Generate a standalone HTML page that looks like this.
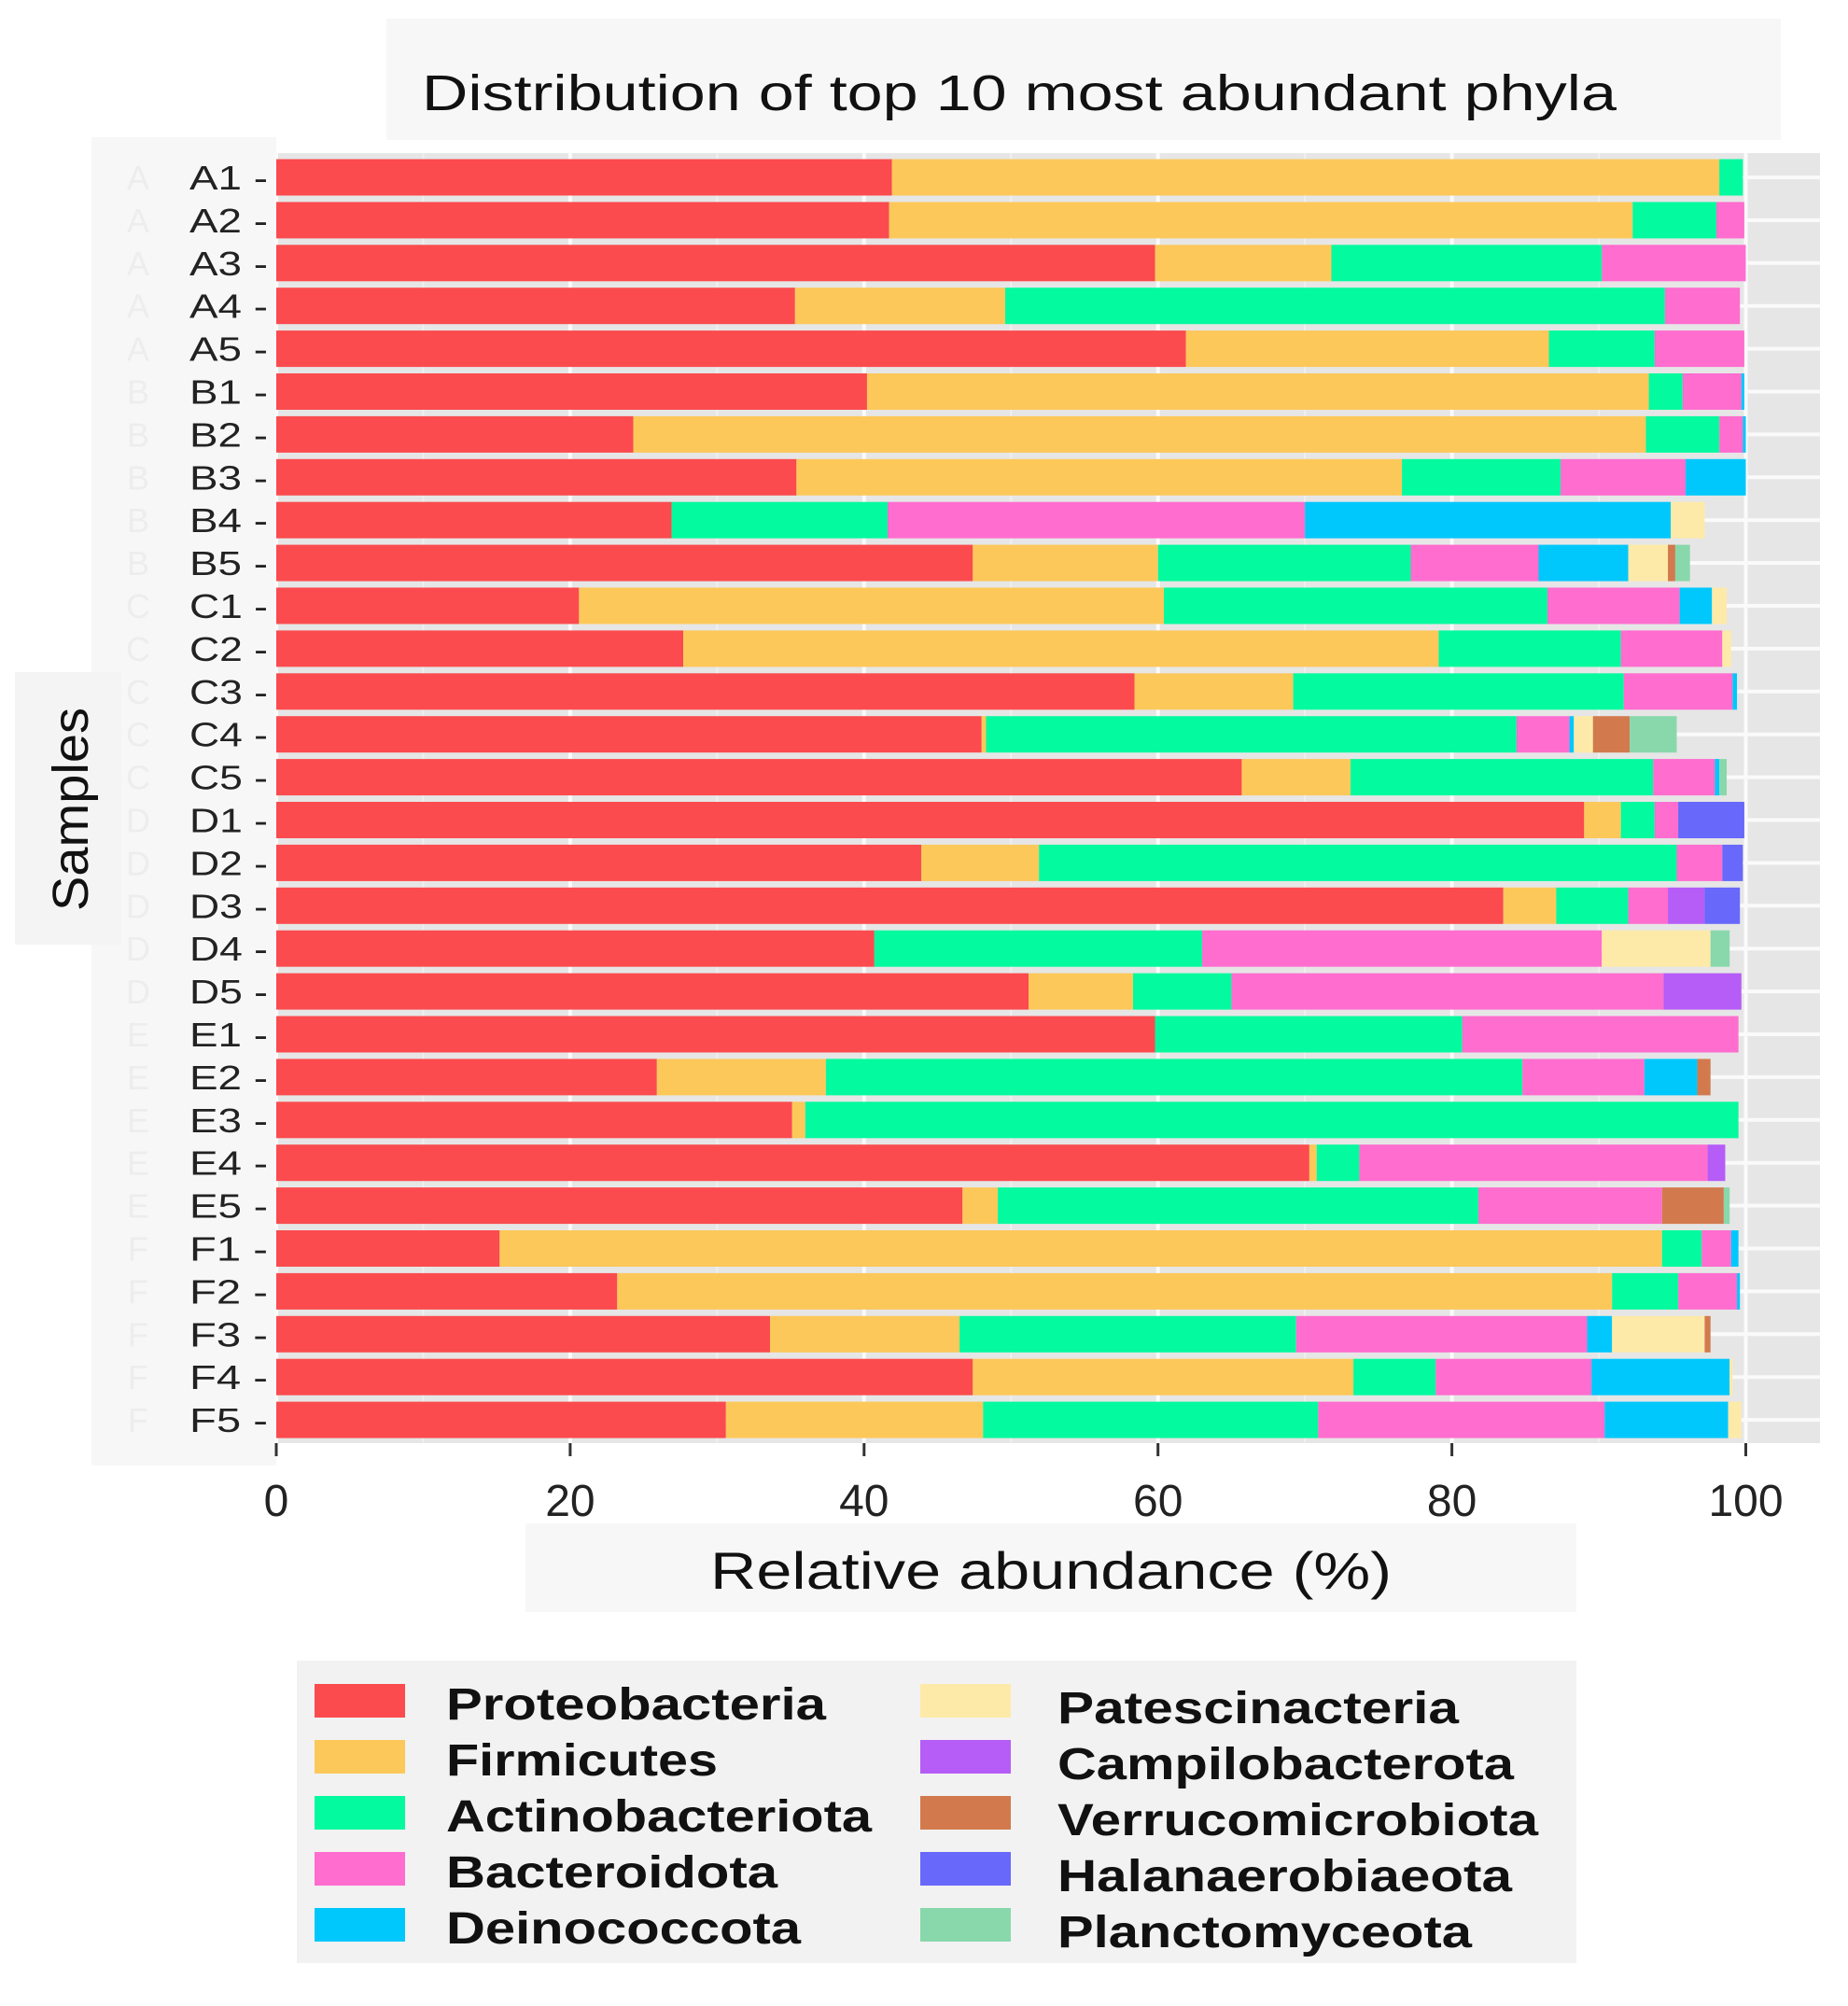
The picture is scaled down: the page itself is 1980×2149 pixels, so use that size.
<!DOCTYPE html>
<html><head><meta charset="utf-8"><style>
html,body{margin:0;padding:0;background:#fff;}
svg text{font-family:"Liberation Sans",Arial,sans-serif;}
</style></head><body>
<svg id="chart" width="1980" height="2144" viewBox="0 0 1980 2144" xmlns="http://www.w3.org/2000/svg">
<rect x="414" y="20" width="1494" height="130" fill="#f7f7f7"/>
<text x="452" y="118" font-size="54" textLength="1280" lengthAdjust="spacingAndGlyphs" fill="#111">Distribution of top 10 most abundant phyla</text>
<rect x="98" y="147" width="198" height="1423" fill="#f7f7f7"/>
<rect x="16" y="720" width="114" height="292" fill="#f4f4f4"/>
<rect x="296" y="164" width="1654" height="1382" fill="#e6e6e6"/>
<g id="grid"></g>
<g id="bars"></g>
<g id="ylabels"></g>
<g id="xaxis"></g>
<rect x="563" y="1632" width="1126" height="95" fill="#f7f7f7"/>
<text x="761" y="1702" font-size="56" textLength="730" lengthAdjust="spacingAndGlyphs" fill="#111">Relative abundance (%)</text>
<text transform="translate(94,867) rotate(-90)" font-size="54" text-anchor="middle" textLength="218" lengthAdjust="spacingAndGlyphs" fill="#111">Samples</text>
<rect x="318" y="1779" width="1371" height="324" fill="#f2f2f2"/>
<g id="legend"></g>
</svg>
<script>
const samples = ["A1","A2","A3","A4","A5","B1","B2","B3","B4","B5","C1","C2","C3","C4","C5","D1","D2","D3","D4","D5","E1","E2","E3","E4","E5","F1","F2","F3","F4","F5"];
const phyla = ["Proteobacteria","Firmicutes","Actinobacteriota","Bacteroidota","Deinococcota","Patescinacteria","Campilobacterota","Verrucomicrobiota","Halanaerobiaeota","Planctomyceota"];
const colors = ["#fb4b4e","#fdc85a","#04fa9e","#ff6dcf","#00c8fc","#feeaa8","#b65cf7","#d27a4d","#6868fb","#88d8ab"];
const legendWidths = [407,291,456,355,380,430,489,515,487,444];
const proteobacteria = [41.9,41.7,59.8,35.3,61.9,40.2,24.3,35.4,26.9,47.4,20.6,27.7,58.4,48.0,65.7,89.0,43.9,83.5,40.7,51.2,59.8,25.9,35.1,70.3,46.7,15.2,23.2,33.6,47.4,30.6];
const firmicutes = [56.3,50.6,12.0,14.3,24.7,53.2,68.9,41.2,0,12.6,39.8,51.4,10.8,0.3,7.4,2.5,8.0,3.6,0,7.1,0,11.5,0.9,0.5,2.4,79.1,67.7,12.9,25.9,17.5];
const actinobacteriota = [1.6,5.7,18.4,44.9,7.2,2.3,5.0,10.8,14.7,17.2,26.1,12.4,22.5,36.1,20.6,2.3,43.4,4.9,22.3,6.7,20.9,47.4,63.5,2.9,32.7,2.7,4.5,22.9,5.6,22.8];
const bacteroidota = [0,1.9,9.8,5.1,6.1,4.0,1.6,8.5,28.4,8.7,9.0,6.9,7.4,3.6,4.2,1.6,3.1,2.7,27.2,29.4,18.8,8.3,0,23.7,12.5,2.0,4.0,19.8,10.6,19.5];
const deinococcota = [0,0,0,0,0,0.2,0.2,4.1,24.9,6.1,2.2,0,0.3,0.3,0.3,0,0,0,0,0,0,3.6,0,0,0,0.5,0.2,1.7,9.4,8.4];
const patescinacteria = [0,0,0,0,0,0,0,0,2.3,2.7,1.0,0.6,0,1.3,0,0,0,0,7.4,0,0,0,0,0,0,0,0,6.3,0.2,0.9];
const campilobacterota = [0,0,0,0,0,0,0,0,0,0,0,0,0,0,0,0,0,2.5,0,5.3,0,0,0,1.2,0,0,0,0,0,0];
const verrucomicrobiota = [0,0,0,0,0,0,0,0,0,0.5,0,0,0,2.5,0,0,0,0,0,0,0,0.9,0,0,4.2,0,0,0.4,0,0];
const halanaerobiaeota = [0,0,0,0,0,0,0,0,0,0,0,0,0,0,0,4.5,1.4,2.4,0,0,0,0,0,0,0,0,0,0,0,0];
const planctomyceota = [0,0,0,0,0,0,0,0,0,1.0,0,0,0,3.2,0.5,0,0,0,1.3,0,0,0,0,0,0.4,0,0,0,0,0];
const series = [proteobacteria,firmicutes,actinobacteriota,bacteroidota,deinococcota,patescinacteria,campilobacterota,verrucomicrobiota,halanaerobiaeota,planctomyceota];
const xTicks = [0,20,40,60,80,100];

const NS="http://www.w3.org/2000/svg";
const X0=296, XS=15.745, Y0=190, YS=45.9, BH=39;
const xScale=v=>X0+v*XS;
const yScale=i=>Y0+i*YS;
function mk(tag,attrs,parent){const e=document.createElementNS(NS,tag);for(const k in attrs)e.setAttribute(k,attrs[k]);parent.appendChild(e);return e;}
const grid=document.getElementById('grid');
for(let v=10;v<=100;v+=20){const g=mk('line',{x1:xScale(v),x2:xScale(v),y1:164,y2:1546,stroke:'#efefef','stroke-width':2},grid);

}
xTicks.forEach(v=>{const g=mk('line',{x1:xScale(v),x2:xScale(v),y1:164,y2:1546,stroke:'#fafafa','stroke-width':4},grid);

});
samples.forEach((s,i)=>{const g=mk('line',{x1:296,x2:1950,y1:yScale(i),y2:yScale(i),stroke:'#fafafa','stroke-width':4},grid);

});
const bars=document.getElementById('bars');
samples.forEach((s,i)=>{let acc=0;series.forEach((arr,k)=>{const v=arr[i];if(v>0){const r=mk('rect',{x:xScale(acc),y:yScale(i)-BH/2,width:v*XS,height:BH,fill:colors[k]},bars);

}acc+=v;});});
const yl=document.getElementById('ylabels');
samples.forEach((s,i)=>{const t=mk('text',{x:287,y:yScale(i)+13,'font-size':36,'text-anchor':'end',textLength:84,lengthAdjust:'spacingAndGlyphs',fill:'#222'},yl);t.textContent=s+' -';


const f=mk('text',{x:148,y:yScale(i)+13,'font-size':36,'text-anchor':'middle',fill:'#ededed'},yl);f.textContent=s[0];

});
const xa=document.getElementById('xaxis');
xTicks.forEach(v=>{const l=mk('line',{x1:xScale(v),x2:xScale(v),y1:1546,y2:1560,stroke:'#333','stroke-width':3},xa);


const t=mk('text',{x:xScale(v),y:1624,'font-size':48,'text-anchor':'middle',fill:'#222'},xa);t.textContent=v;

});
const lg=document.getElementById('legend');
phyla.forEach((p,k)=>{const col=Math.floor(k/5),row=k%5;const sx=col?986:337,tx=col?1133:478,cy=1822+row*60;
const r=mk('rect',{x:sx,y:cy-18,width:97,height:36,fill:colors[k]},lg);


const t=mk('text',{x:tx,y:cy+20+(col?4:0),'font-size':48,'font-weight':'bold',textLength:legendWidths[k],lengthAdjust:'spacingAndGlyphs',fill:'#111'},lg);t.textContent=p;

});
</script>
</body></html>
